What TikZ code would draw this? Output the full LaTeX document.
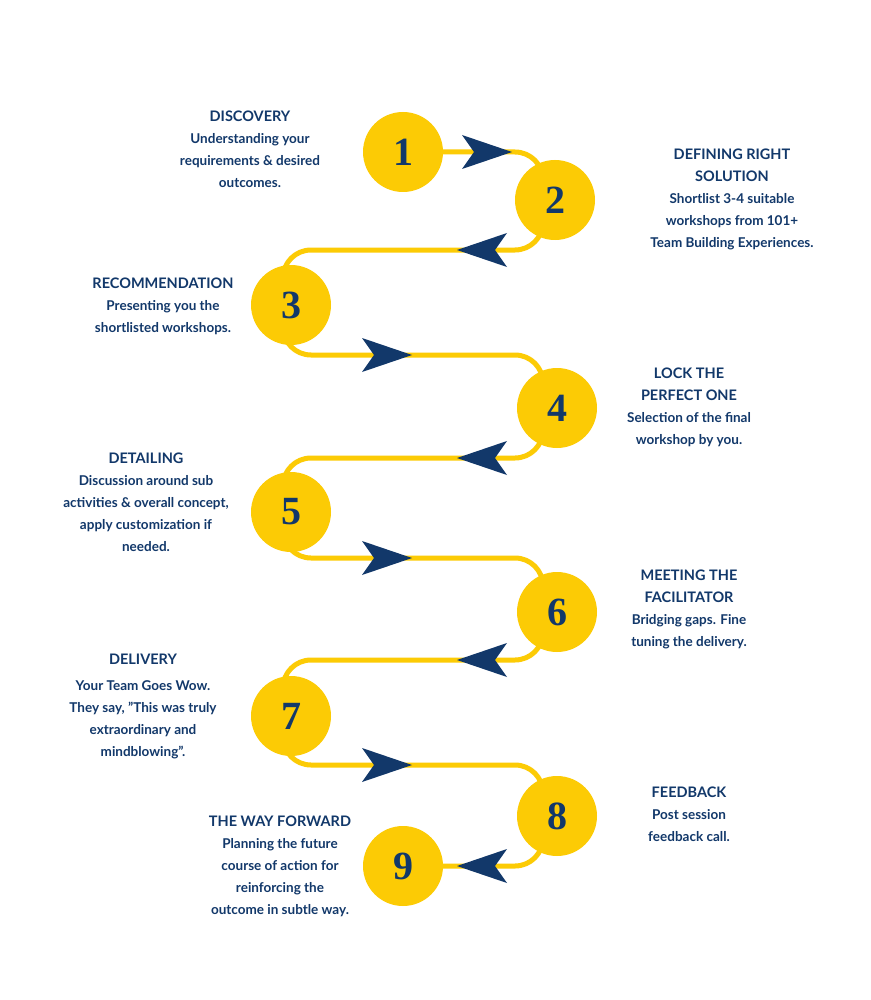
\documentclass[tikz,border=0pt]{standalone}
\usepackage{fontspec}
\setmainfont{Lato}
\newfontfamily\numfont{Liberation Serif}
\definecolor{navy}{HTML}{12386A}
\definecolor{gold}{HTML}{FCCB05}
\newcommand\ttl{\fontsize{14.5}{22}\selectfont}
\begin{document}
\begin{tikzpicture}[x=1pt,y=-1pt,
  num/.style={circle,fill=gold,minimum size=80pt,inner sep=0pt,text=navy,font=\numfont\bfseries\fontsize{40}{40}\selectfont},
  txt/.style={align=center,text=navy,font=\bfseries\fontsize{13.5}{22}\selectfont},
  arr/.style={fill=navy}]
\useasboundingbox (0,0) rectangle (870,1000);
\fill[white] (0,0) rectangle (870,1000);
\draw[gold,line width=5pt,rounded corners=28pt]
 (403,152) -- (543,152) -- (543,250) -- (283,250) -- (283,355) -- (543,355) -- (543,458) -- (283,458) -- (283,558) -- (543,558) -- (543,660) -- (283,660) -- (283,765) -- (543,765) -- (543,866) -- (403,866);
\newcommand\rarr[2]{\fill[arr] (#1+50,#2) -- (#1,#2-17) -- (#1+12,#2) -- (#1,#2+17) -- cycle;}
\newcommand\larr[2]{\fill[arr] (#1,#2) -- (#1+50,#2-17) -- (#1+38,#2) -- (#1+50,#2+17) -- cycle;}
\rarr{462}{152}
\larr{457}{250}
\rarr{362}{355}
\larr{457}{458}
\rarr{362}{558}
\larr{457}{660}
\rarr{362}{765}
\larr{457}{866}
\node[num] (n1) at (403,152) {1};
\node[num] (n2) at (555,200) {2};
\node[num] (n3) at (291,305) {3};
\node[num] (n4) at (557,408) {4};
\node[num] (n5) at (291,512) {5};
\node[num] (n6) at (557,612) {6};
\node[num] (n7) at (291,716) {7};
\node[num] (n8) at (557,816) {8};
\node[num] (n9) at (403,866) {9};
\node[txt] (t1) at (250,149) {{\ttl DISCOVERY}\\Understanding your\\requirements \& desired\\outcomes.};
\node[txt] (t2) at (732,199) {{\ttl DEFINING RIGHT}\\{\ttl SOLUTION}\\Shortlist 3-4 suitable\\workshops from 101+\\Team Building Experiences.};
\node[txt] (t3) at (163,306) {{\ttl RECOMMENDATION}\\Presenting you the\\shortlisted workshops.};
\node[txt] (t4) at (689,407) {{\ttl LOCK THE}\\{\ttl PERFECT ONE}\\Selection of the final\\workshop by you.};
\node[txt] (t5) at (146,502) {{\ttl DETAILING}\\Discussion around sub\\activities \& overall concept,\\apply customization if\\needed.};
\node[txt] (t6) at (689,609) {{\ttl MEETING THE}\\{\ttl FACILITATOR}\\Bridging gaps. Fine\\tuning the delivery.};
\node[txt] (t7) at (143,706) {{\ttl DELIVERY}\\[4pt]Your Team Goes Wow.\\They say, "This was truly\\extraordinary and\\mindblowing”.};
\node[txt] (t8) at (689,814) {{\ttl FEEDBACK}\\Post session\\feedback call.};
\node[txt] (t9) at (280,866) {{\ttl THE WAY FORWARD}\\Planning the future\\course of action for\\reinforcing the\\outcome in subtle way.};
\end{tikzpicture}
\end{document}
